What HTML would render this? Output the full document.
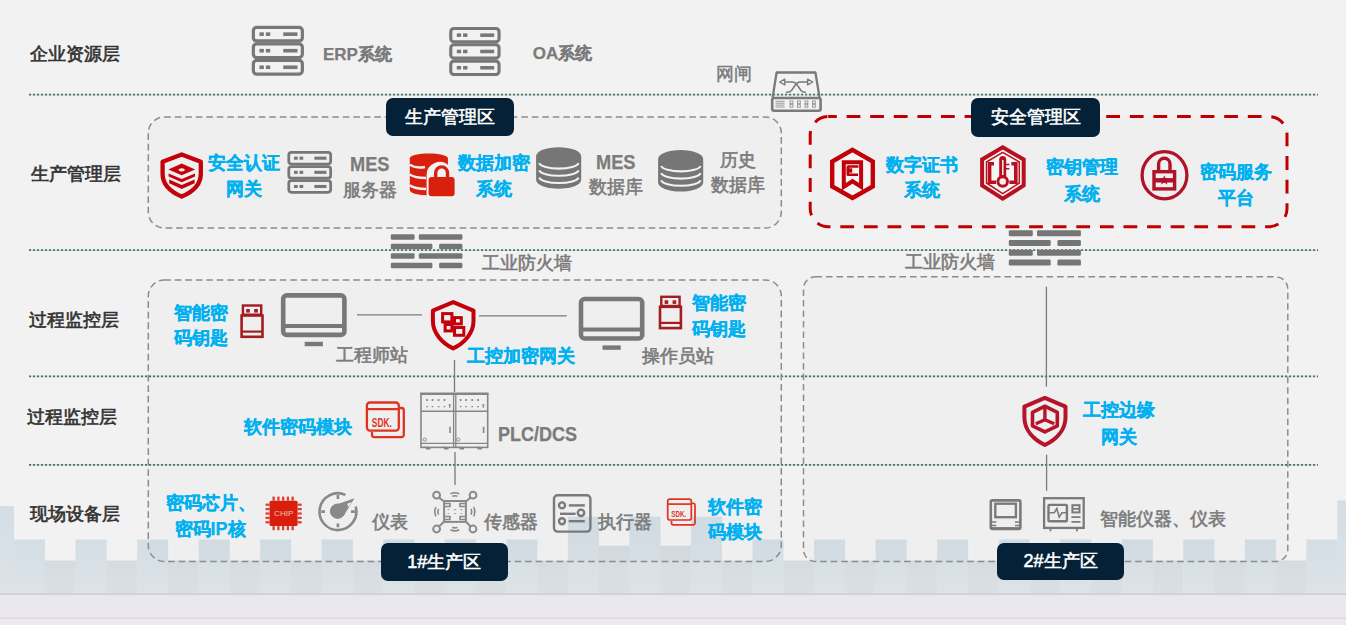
<!DOCTYPE html>
<html><head><meta charset="utf-8"><style>
html,body{margin:0;padding:0;}
body{width:1346px;height:625px;overflow:hidden;background:#f2f2f2;font-family:"Liberation Sans",sans-serif;}
#c{position:relative;width:1346px;height:625px;overflow:hidden;background:#f2f2f2;}
.t{position:absolute;white-space:nowrap;}
.lab{position:absolute;background:#042137;color:#fff;border-radius:7px;text-align:center;font-size:18px;font-weight:normal;-webkit-text-stroke:0.55px #fff;}
svg.bg{position:absolute;left:0;top:0;}
</style></head><body><div id="c">
<svg class="bg" width="1346" height="625" viewBox="0 0 1346 625"><defs><linearGradient id="gh" x1="0" y1="0" x2="0" y2="1"><stop offset="0" stop-color="#d3dee5"/><stop offset="1" stop-color="#dde3e7"/></linearGradient><linearGradient id="gl" x1="0" y1="0" x2="0" y2="1"><stop offset="0" stop-color="#d5dce1"/><stop offset="1" stop-color="#dadfe3"/></linearGradient></defs><rect x="0" y="506" width="14" height="87.5" fill="url(#gh)"/><rect x="14.00" y="539.5" width="31.07" height="54.00" fill="url(#gh)"/><rect x="44.77" y="560.5" width="31.07" height="33.00" fill="url(#gl)"/><rect x="75.54" y="539.5" width="31.07" height="54.00" fill="url(#gh)"/><rect x="106.31" y="560.5" width="31.07" height="33.00" fill="url(#gl)"/><rect x="137.08" y="539.5" width="31.07" height="54.00" fill="url(#gh)"/><rect x="167.85" y="560.5" width="31.07" height="33.00" fill="url(#gl)"/><rect x="198.62" y="539.5" width="31.07" height="54.00" fill="url(#gh)"/><rect x="229.39" y="560.5" width="31.07" height="33.00" fill="url(#gl)"/><rect x="260.16" y="539.5" width="31.07" height="54.00" fill="url(#gh)"/><rect x="290.93" y="560.5" width="31.07" height="33.00" fill="url(#gl)"/><rect x="321.70" y="539.5" width="31.07" height="54.00" fill="url(#gh)"/><rect x="352.47" y="560.5" width="31.07" height="33.00" fill="url(#gl)"/><rect x="383.24" y="539.5" width="31.07" height="54.00" fill="url(#gh)"/><rect x="414.01" y="560.5" width="31.07" height="33.00" fill="url(#gl)"/><rect x="444.78" y="539.5" width="31.07" height="54.00" fill="url(#gh)"/><rect x="475.55" y="560.5" width="31.07" height="33.00" fill="url(#gl)"/><rect x="506.32" y="539.5" width="31.07" height="54.00" fill="url(#gh)"/><rect x="537.09" y="560.5" width="31.07" height="33.00" fill="url(#gl)"/><rect x="567.86" y="516.7" width="31.07" height="76.80" fill="url(#gh)"/><rect x="598.63" y="545.7" width="31.07" height="47.80" fill="url(#gl)"/><rect x="629.40" y="516.7" width="31.07" height="76.80" fill="url(#gh)"/><rect x="660.17" y="545.7" width="31.07" height="47.80" fill="url(#gl)"/><rect x="690.94" y="516.7" width="31.07" height="76.80" fill="url(#gh)"/><rect x="721.71" y="560.5" width="31.07" height="33.00" fill="url(#gl)"/><rect x="752.48" y="539.5" width="31.07" height="54.00" fill="url(#gh)"/><rect x="783.25" y="560.5" width="31.07" height="33.00" fill="url(#gl)"/><rect x="814.02" y="539.5" width="31.07" height="54.00" fill="url(#gh)"/><rect x="844.79" y="560.5" width="31.07" height="33.00" fill="url(#gl)"/><rect x="875.56" y="539.5" width="31.07" height="54.00" fill="url(#gh)"/><rect x="906.33" y="560.5" width="31.07" height="33.00" fill="url(#gl)"/><rect x="937.10" y="539.5" width="31.07" height="54.00" fill="url(#gh)"/><rect x="967.87" y="560.5" width="31.07" height="33.00" fill="url(#gl)"/><rect x="998.64" y="539.5" width="31.07" height="54.00" fill="url(#gh)"/><rect x="1029.41" y="560.5" width="31.07" height="33.00" fill="url(#gl)"/><rect x="1060.18" y="539.5" width="31.07" height="54.00" fill="url(#gh)"/><rect x="1090.95" y="560.5" width="31.07" height="33.00" fill="url(#gl)"/><rect x="1121.72" y="539.5" width="31.07" height="54.00" fill="url(#gh)"/><rect x="1152.49" y="560.5" width="31.07" height="33.00" fill="url(#gl)"/><rect x="1183.26" y="539.5" width="31.07" height="54.00" fill="url(#gh)"/><rect x="1214.03" y="560.5" width="31.07" height="33.00" fill="url(#gl)"/><rect x="1244.80" y="539.5" width="31.07" height="54.00" fill="url(#gh)"/><rect x="1275.57" y="560.5" width="31.07" height="33.00" fill="url(#gl)"/><rect x="1306.34" y="539.5" width="31.07" height="54.00" fill="url(#gh)"/><rect x="1337.11" y="560.5" width="31.07" height="33.00" fill="url(#gl)"/><rect x="1337.2" y="500.5" width="9" height="93" fill="url(#gh)"/><rect x="0" y="593.4" width="1346" height="1.5" fill="#c9c8cc"/><rect x="0" y="594.9" width="1346" height="22.6" fill="#eae8ee"/><rect x="0" y="617.5" width="1346" height="1.4" fill="#d8d6db"/><rect x="0" y="618.9" width="1346" height="7" fill="#ebe9ef"/><line x1="29" y1="94.6" x2="1318" y2="94.6" stroke="#dde4e2" stroke-width="1.6"/><line x1="29" y1="94.6" x2="1318" y2="94.6" stroke="#44786f" stroke-width="1.6" stroke-dasharray="2.1 1.9"/><line x1="29" y1="250.1" x2="1318" y2="250.1" stroke="#dde4e2" stroke-width="1.6"/><line x1="29" y1="250.1" x2="1318" y2="250.1" stroke="#44786f" stroke-width="1.6" stroke-dasharray="2.1 1.9"/><line x1="29" y1="376.4" x2="1318" y2="376.4" stroke="#dde4e2" stroke-width="1.6"/><line x1="29" y1="376.4" x2="1318" y2="376.4" stroke="#44786f" stroke-width="1.6" stroke-dasharray="2.1 1.9"/><line x1="29" y1="464.9" x2="1318" y2="464.9" stroke="#dde4e2" stroke-width="1.6"/><line x1="29" y1="464.9" x2="1318" y2="464.9" stroke="#44786f" stroke-width="1.6" stroke-dasharray="2.1 1.9"/><rect x="148.3" y="117" width="633.0" height="111" rx="16" fill="#000" fill-opacity="0.012" stroke="#8c8c8c" stroke-width="1.5" stroke-dasharray="6.6 3.9" stroke-dashoffset="0"/><rect x="148.3" y="280" width="633.0" height="281.5" rx="16" fill="#000" fill-opacity="0.012" stroke="#8c8c8c" stroke-width="1.5" stroke-dasharray="6.6 3.9" stroke-dashoffset="0"/><rect x="803.5" y="276.8" width="484.29999999999995" height="284.7" rx="12" fill="#000" fill-opacity="0.012" stroke="#8c8c8c" stroke-width="1.5" stroke-dasharray="6.6 3.9" stroke-dashoffset="0"/><rect x="810.2" y="116.6" width="476.79999999999995" height="110.1" rx="18" fill="#000" fill-opacity="0.012" stroke="#c00000" stroke-width="3" stroke-dasharray="13.8 9.8" stroke-dashoffset="5.2"/><line x1="357" y1="314.8" x2="422" y2="314.8" stroke="#7a7a7a" stroke-width="1.3"/><line x1="479" y1="315.8" x2="566.7" y2="315.8" stroke="#7a7a7a" stroke-width="1.3"/><line x1="454.5" y1="360" x2="454.5" y2="392" stroke="#7a7a7a" stroke-width="1.3"/><line x1="455" y1="452" x2="455" y2="485" stroke="#7a7a7a" stroke-width="1.3"/><line x1="1046.4" y1="286.6" x2="1046.4" y2="386.7" stroke="#7a7a7a" stroke-width="1.3"/><line x1="1046.6" y1="454.7" x2="1046.6" y2="490.8" stroke="#7a7a7a" stroke-width="1.3"/></svg>
<div class="t" style="left:30px;top:44.5px;font-size:18px;line-height:18px;font-weight:normal;color:#333;-webkit-text-stroke:0.65px #333;">企业资源层</div><div class="t" style="left:30.5px;top:165px;font-size:18px;line-height:18px;font-weight:normal;color:#333;-webkit-text-stroke:0.65px #333;">生产管理层</div><div class="t" style="left:28.5px;top:310.5px;font-size:18px;line-height:18px;font-weight:normal;color:#333;-webkit-text-stroke:0.65px #333;">过程监控层</div><div class="t" style="left:27px;top:408.2px;font-size:18px;line-height:18px;font-weight:normal;color:#333;-webkit-text-stroke:0.65px #333;">过程监控层</div><div class="t" style="left:29.5px;top:504.8px;font-size:18px;line-height:18px;font-weight:normal;color:#333;-webkit-text-stroke:0.65px #333;">现场设备层</div><div class="lab" style="left:386px;top:98.4px;width:128px;height:38px;line-height:38px">生产管理区</div><div class="lab" style="left:971px;top:98.4px;width:129px;height:38.6px;line-height:38.6px">安全管理区</div><div class="lab" style="left:380.5px;top:542.9px;width:127.5px;height:38px;line-height:38px">1#生产区</div><div class="lab" style="left:997px;top:543px;width:127px;height:37.4px;line-height:37.4px">2#生产区</div><div class="t" style="left:323px;top:45.5px;font-size:17px;line-height:17px;font-weight:bold;color:#7b7b7b;-webkit-text-stroke:0.25px #7b7b7b;">ERP系统</div><div class="t" style="left:532.7px;top:45.4px;font-size:17px;line-height:17px;font-weight:bold;color:#7b7b7b;-webkit-text-stroke:0.25px #7b7b7b;">OA系统</div><div class="t" style="left:716px;top:65.6px;font-size:17.5px;line-height:17.5px;font-weight:normal;color:#7b7b7b;-webkit-text-stroke:0.6px #7b7b7b;-webkit-text-stroke:0.45px #7b7b7b;">网闸</div><div class="t" style="left:208px;top:154px;font-size:18px;line-height:18px;font-weight:bold;color:#00b0f0;-webkit-text-stroke:0.25px #00b0f0;">安全认证</div><div class="t" style="left:226px;top:180px;font-size:18px;line-height:18px;font-weight:bold;color:#00b0f0;-webkit-text-stroke:0.25px #00b0f0;">网关</div><div class="t" style="left:349.5px;top:153.6px;font-size:20.5px;line-height:20.5px;font-weight:bold;color:#7b7b7b;-webkit-text-stroke:0.25px #7b7b7b;transform:scaleX(0.89);transform-origin:0 0;">MES</div><div class="t" style="left:342.7px;top:181px;font-size:18px;line-height:18px;font-weight:normal;color:#7b7b7b;-webkit-text-stroke:0.6px #7b7b7b;">服务器</div><div class="t" style="left:457.6px;top:153.7px;font-size:18px;line-height:18px;font-weight:bold;color:#00b0f0;-webkit-text-stroke:0.25px #00b0f0;">数据加密</div><div class="t" style="left:476px;top:180px;font-size:18px;line-height:18px;font-weight:bold;color:#00b0f0;-webkit-text-stroke:0.25px #00b0f0;">系统</div><div class="t" style="left:596px;top:151.5px;font-size:20.5px;line-height:20.5px;font-weight:bold;color:#7b7b7b;-webkit-text-stroke:0.25px #7b7b7b;transform:scaleX(0.89);transform-origin:0 0;">MES</div><div class="t" style="left:589px;top:178px;font-size:18px;line-height:18px;font-weight:normal;color:#7b7b7b;-webkit-text-stroke:0.6px #7b7b7b;">数据库</div><div class="t" style="left:720px;top:150.5px;font-size:18px;line-height:18px;font-weight:normal;color:#7b7b7b;-webkit-text-stroke:0.6px #7b7b7b;">历史</div><div class="t" style="left:711px;top:176px;font-size:18px;line-height:18px;font-weight:normal;color:#7b7b7b;-webkit-text-stroke:0.6px #7b7b7b;">数据库</div><div class="t" style="left:885.8px;top:155.5px;font-size:18px;line-height:18px;font-weight:bold;color:#00b0f0;-webkit-text-stroke:0.25px #00b0f0;">数字证书</div><div class="t" style="left:904px;top:181px;font-size:18px;line-height:18px;font-weight:bold;color:#00b0f0;-webkit-text-stroke:0.25px #00b0f0;">系统</div><div class="t" style="left:1046px;top:158px;font-size:18px;line-height:18px;font-weight:bold;color:#00b0f0;-webkit-text-stroke:0.25px #00b0f0;">密钥管理</div><div class="t" style="left:1064.4px;top:184.7px;font-size:18px;line-height:18px;font-weight:bold;color:#00b0f0;-webkit-text-stroke:0.25px #00b0f0;">系统</div><div class="t" style="left:1200px;top:163px;font-size:18px;line-height:18px;font-weight:bold;color:#00b0f0;-webkit-text-stroke:0.25px #00b0f0;">密码服务</div><div class="t" style="left:1218px;top:189px;font-size:18px;line-height:18px;font-weight:bold;color:#00b0f0;-webkit-text-stroke:0.25px #00b0f0;">平台</div><div class="t" style="left:482px;top:254.3px;font-size:18px;line-height:18px;font-weight:normal;color:#7b7b7b;-webkit-text-stroke:0.6px #7b7b7b;">工业防火墙</div><div class="t" style="left:905.3px;top:252.6px;font-size:18px;line-height:18px;font-weight:normal;color:#7b7b7b;-webkit-text-stroke:0.6px #7b7b7b;">工业防火墙</div><div class="t" style="left:174px;top:303.6px;font-size:18px;line-height:18px;font-weight:bold;color:#00b0f0;-webkit-text-stroke:0.25px #00b0f0;">智能密</div><div class="t" style="left:174px;top:329px;font-size:18px;line-height:18px;font-weight:bold;color:#00b0f0;-webkit-text-stroke:0.25px #00b0f0;">码钥匙</div><div class="t" style="left:336px;top:345.8px;font-size:18px;line-height:18px;font-weight:normal;color:#7b7b7b;-webkit-text-stroke:0.6px #7b7b7b;">工程师站</div><div class="t" style="left:466.5px;top:347.2px;font-size:18px;line-height:18px;font-weight:bold;color:#00b0f0;-webkit-text-stroke:0.25px #00b0f0;">工控加密网关</div><div class="t" style="left:641.5px;top:347px;font-size:18px;line-height:18px;font-weight:normal;color:#7b7b7b;-webkit-text-stroke:0.6px #7b7b7b;">操作员站</div><div class="t" style="left:692px;top:294.3px;font-size:18px;line-height:18px;font-weight:bold;color:#00b0f0;-webkit-text-stroke:0.25px #00b0f0;">智能密</div><div class="t" style="left:692px;top:320.3px;font-size:18px;line-height:18px;font-weight:bold;color:#00b0f0;-webkit-text-stroke:0.25px #00b0f0;">码钥匙</div><div class="t" style="left:244.3px;top:418px;font-size:18px;line-height:18px;font-weight:bold;color:#00b0f0;-webkit-text-stroke:0.25px #00b0f0;">软件密码模块</div><div class="t" style="left:497.5px;top:425.3px;font-size:19.6px;line-height:19.6px;font-weight:bold;color:#7b7b7b;-webkit-text-stroke:0.25px #7b7b7b;transform:scaleX(0.92);transform-origin:0 0;">PLC/DCS</div><div class="t" style="left:166px;top:494.3px;font-size:18px;line-height:18px;font-weight:bold;color:#00b0f0;-webkit-text-stroke:0.25px #00b0f0;">密码芯片、</div><div class="t" style="left:174.5px;top:520px;font-size:18px;line-height:18px;font-weight:bold;color:#00b0f0;-webkit-text-stroke:0.25px #00b0f0;">密码IP核</div><div class="t" style="left:371.9px;top:512.7px;font-size:18px;line-height:18px;font-weight:normal;color:#7b7b7b;-webkit-text-stroke:0.6px #7b7b7b;">仪表</div><div class="t" style="left:484.4px;top:513px;font-size:18px;line-height:18px;font-weight:normal;color:#7b7b7b;-webkit-text-stroke:0.6px #7b7b7b;">传感器</div><div class="t" style="left:598.4px;top:513px;font-size:18px;line-height:18px;font-weight:normal;color:#7b7b7b;-webkit-text-stroke:0.6px #7b7b7b;">执行器</div><div class="t" style="left:708px;top:498px;font-size:18px;line-height:18px;font-weight:bold;color:#00b0f0;-webkit-text-stroke:0.25px #00b0f0;">软件密</div><div class="t" style="left:708px;top:522.7px;font-size:18px;line-height:18px;font-weight:bold;color:#00b0f0;-webkit-text-stroke:0.25px #00b0f0;">码模块</div><div class="t" style="left:1082.9px;top:401.4px;font-size:18px;line-height:18px;font-weight:bold;color:#00b0f0;-webkit-text-stroke:0.25px #00b0f0;">工控边缘</div><div class="t" style="left:1101px;top:428.4px;font-size:18px;line-height:18px;font-weight:bold;color:#00b0f0;-webkit-text-stroke:0.25px #00b0f0;">网关</div><div class="t" style="left:1100.4px;top:510px;font-size:18px;line-height:18px;font-weight:normal;color:#7b7b7b;-webkit-text-stroke:0.6px #7b7b7b;">智能仪器、仪表</div>
<svg class="bg" width="1346" height="625" viewBox="0 0 1346 625"><g transform="translate(251.75,25.75) scale(1.0)" fill="none" stroke="#777777" stroke-width="3.2"><rect x="1.6" y="1.60" width="49" height="13.6" rx="3.2"/><rect x="7.7" y="6.60" width="4.4" height="3.6" fill="#777777" stroke="none"/><rect x="14.1" y="6.60" width="4.4" height="3.6" fill="#777777" stroke="none"/><rect x="31.5" y="6.60" width="14.2" height="3.6" fill="#777777" stroke="none"/><rect x="1.6" y="18.15" width="49" height="13.6" rx="3.2"/><rect x="7.7" y="23.15" width="4.4" height="3.6" fill="#777777" stroke="none"/><rect x="14.1" y="23.15" width="4.4" height="3.6" fill="#777777" stroke="none"/><rect x="31.5" y="23.15" width="14.2" height="3.6" fill="#777777" stroke="none"/><rect x="1.6" y="34.70" width="49" height="13.6" rx="3.2"/><rect x="7.7" y="39.70" width="4.4" height="3.6" fill="#777777" stroke="none"/><rect x="14.1" y="39.70" width="4.4" height="3.6" fill="#777777" stroke="none"/><rect x="31.5" y="39.70" width="14.2" height="3.6" fill="#777777" stroke="none"/></g><g transform="translate(449.2,26.9) scale(0.985)" fill="none" stroke="#777777" stroke-width="3.2"><rect x="1.6" y="1.60" width="49" height="13.6" rx="3.2"/><rect x="7.7" y="6.60" width="4.4" height="3.6" fill="#777777" stroke="none"/><rect x="14.1" y="6.60" width="4.4" height="3.6" fill="#777777" stroke="none"/><rect x="31.5" y="6.60" width="14.2" height="3.6" fill="#777777" stroke="none"/><rect x="1.6" y="18.15" width="49" height="13.6" rx="3.2"/><rect x="7.7" y="23.15" width="4.4" height="3.6" fill="#777777" stroke="none"/><rect x="14.1" y="23.15" width="4.4" height="3.6" fill="#777777" stroke="none"/><rect x="31.5" y="23.15" width="14.2" height="3.6" fill="#777777" stroke="none"/><rect x="1.6" y="34.70" width="49" height="13.6" rx="3.2"/><rect x="7.7" y="39.70" width="4.4" height="3.6" fill="#777777" stroke="none"/><rect x="14.1" y="39.70" width="4.4" height="3.6" fill="#777777" stroke="none"/><rect x="31.5" y="39.70" width="14.2" height="3.6" fill="#777777" stroke="none"/></g><g transform="translate(287.4,151.0) scale(0.855)" fill="none" stroke="#777777" stroke-width="3.2"><rect x="1.6" y="1.60" width="49" height="13.6" rx="3.2"/><rect x="7.7" y="6.60" width="4.4" height="3.6" fill="#777777" stroke="none"/><rect x="14.1" y="6.60" width="4.4" height="3.6" fill="#777777" stroke="none"/><rect x="31.5" y="6.60" width="14.2" height="3.6" fill="#777777" stroke="none"/><rect x="1.6" y="18.15" width="49" height="13.6" rx="3.2"/><rect x="7.7" y="23.15" width="4.4" height="3.6" fill="#777777" stroke="none"/><rect x="14.1" y="23.15" width="4.4" height="3.6" fill="#777777" stroke="none"/><rect x="31.5" y="23.15" width="14.2" height="3.6" fill="#777777" stroke="none"/><rect x="1.6" y="34.70" width="49" height="13.6" rx="3.2"/><rect x="7.7" y="39.70" width="4.4" height="3.6" fill="#777777" stroke="none"/><rect x="14.1" y="39.70" width="4.4" height="3.6" fill="#777777" stroke="none"/><rect x="31.5" y="39.70" width="14.2" height="3.6" fill="#777777" stroke="none"/></g><g transform="translate(766,66)" fill="none" stroke="#7a7a7a"><path d="M6.6,31.6 L10.6,6.5 H49.4 L53.6,31.6" stroke-width="2.3" stroke-linejoin="round"/><rect x="6.2" y="32" width="48.4" height="12.8" rx="2" stroke-width="2.6"/><path d="M19.5,16 H26.5 C29,16 30,17 31.5,19.5 L35,24.5 C36.5,26.5 37,26.3 40,26.3" stroke-width="1.5"/><path d="M41,16 H34 C31.5,16 30.5,17 29,19.5 L25.5,24.5 C24,26.5 23.5,26.3 20,26.3" stroke-width="1.5"/><path d="M18.8,13.2 L13.6,16 L18.8,18.8 Z" stroke-width="1.4" stroke-linejoin="round"/><path d="M41.6,13.2 L46.8,16 L41.6,18.8 Z" stroke-width="1.4" stroke-linejoin="round"/><g stroke-width="1" stroke="#9a9a9a"><path d="M9.5,35.3 H18.6 M9.5,37.2 H18.6 M9.5,39.1 H18.6 M9.5,41 H18.6"/><rect x="24" y="35" width="2.8" height="2.6"/><rect x="24" y="38.6" width="2.8" height="2.6"/><rect x="31.5" y="35" width="2.8" height="2.6"/><rect x="31.5" y="38.6" width="2.8" height="2.6"/><rect x="39" y="35" width="2.8" height="2.6"/><rect x="39" y="38.6" width="2.8" height="2.6"/><rect x="46.5" y="35" width="2.8" height="2.6"/><rect x="46.5" y="38.6" width="2.8" height="2.6"/></g></g><g transform="translate(154,146)"><path d="M27.7,8.5 L46.8,15.8 V28 C46.8,38.5 38.5,46 27.7,50.6 C16.9,46 8.6,38.5 8.6,28 V15.8 Z" fill="none" stroke="#c4000b" stroke-width="4.3" stroke-linejoin="round"/><path d="M27.7,17.6 L41.2,23.5 L27.7,29.3 L14.4,23.5 Z" fill="#c4000b"/><ellipse cx="27.7" cy="23.8" rx="3" ry="1.6" fill="#f2f2f2"/><path d="M14.6,27.4 L27.7,33 L41,27.4 V30.6 L27.7,36.3 L14.6,30.6 Z" fill="#c4000b"/><path d="M15.2,33.4 L27.7,39 L40.6,33.4 V37.2 L27.7,43 L15.2,37.2 Z" fill="#c4000b"/></g><g transform="translate(404,146)"><path d="M5.8,12.2 C5.8,5.8 43.9,5.8 43.9,12.2 V44 C43.9,51 5.8,51 5.8,44 Z" fill="#d9200f"/><path d="M5.8,18.8 C10,21.5 16,22 21,21" fill="none" stroke="#f2f2f2" stroke-width="2.4"/><path d="M5.8,28.6 C10,31.5 16,32 22,32" fill="none" stroke="#f2f2f2" stroke-width="2.4"/><path d="M5.8,39.3 C10,42.5 16,43 22,43" fill="none" stroke="#f2f2f2" stroke-width="2.4"/><path d="M22.6,29 A13,13 0 0 1 45,20 V52 H22.6 Z" fill="#f2f2f2"/><rect x="24.6" y="30.9" width="26" height="19.3" rx="3" fill="#d9200f" stroke="#f2f2f2" stroke-width="0"/><path d="M31.7,31.5 V26.8 A5.9,5.9 0 0 1 43.5,26.8 V31.5" fill="none" stroke="#d9200f" stroke-width="3.4"/></g><g transform="translate(530,140)"><path d="M6.1,16.2 A22.55,9 0 0 1 51.2,16.2 V39.8 A22.55,9 0 0 1 6.1,39.8 Z" fill="#767676"/><path d="M9.2,23.2 A19.8,6 0 0 0 48.6,23.2" fill="none" stroke="#f2f2f2" stroke-width="2.1"/><path d="M9.2,30.4 A19.8,6 0 0 0 48.6,30.4" fill="none" stroke="#f2f2f2" stroke-width="2.1"/><path d="M9.2,37.6 A19.8,6 0 0 0 48.6,37.6" fill="none" stroke="#f2f2f2" stroke-width="2.1"/></g><g transform="translate(652,142.8)"><path d="M6.1,16.2 A22.55,9 0 0 1 51.2,16.2 V39.8 A22.55,9 0 0 1 6.1,39.8 Z" fill="#767676"/><path d="M9.2,23.2 A19.8,6 0 0 0 48.6,23.2" fill="none" stroke="#f2f2f2" stroke-width="2.1"/><path d="M9.2,30.4 A19.8,6 0 0 0 48.6,30.4" fill="none" stroke="#f2f2f2" stroke-width="2.1"/><path d="M9.2,37.6 A19.8,6 0 0 0 48.6,37.6" fill="none" stroke="#f2f2f2" stroke-width="2.1"/></g><g transform="translate(824,142)" fill="none" stroke="#c20008" stroke-linejoin="miter"><path d="M28.5,7.8 L48.8,19.6 V44.4 L28.5,56 L8.2,44.4 V19.6 Z" stroke-width="4.4" fill="#f5f5f5"/><path d="M19.8,20.3 H37.1 V44.8 L28.5,39.2 L19.8,44.8 Z" stroke-width="4"/><path d="M23.2,24.5 H34.5 M23.8,24.5 V33 M23,32.7 H34" stroke-width="2.6"/><rect x="23.8" y="26.3" width="4.4" height="4.4" fill="#c20008" stroke="none"/></g><g transform="translate(974,140)" fill="none" stroke="#b8101f"><path d="M28.7,7.3 L49.7,19.5 V45.5 L28.7,58.7 L8.1,45.5 V19.5 Z" stroke-width="4" fill="#f5f5f5"/><path d="M28.7,12.3 L45.3,22 V43 L28.7,53.6 L12.5,43 V22 Z" stroke-width="1.5"/><path d="M20,23.8 H15.6 V42.3 H22 M37.4,23.8 H41.8 V42.3 H35.4" stroke-width="3.6"/><path d="M28.7,19.5 V36" stroke-width="7" stroke-linecap="round"/><circle cx="28.7" cy="41.5" r="6.2" fill="#b8101f" stroke="none"/><circle cx="28.7" cy="41.5" r="3.3" fill="#f2f2f2" stroke="none"/><path d="M28.8,20 V35" stroke="#f2f2f2" stroke-width="1.5"/><path d="M32,24.5 H35.4 M32,28.8 H35.4" stroke-width="1.6"/></g><g transform="translate(1136,145)" fill="none" stroke="#b0122a"><ellipse cx="28.5" cy="30.2" rx="22.4" ry="23.6" stroke-width="3.3"/><rect x="18" y="26.7" width="20.6" height="17.2" stroke-width="3.4"/><path d="M22.6,26.5 V19 A5.7,5.7 0 0 1 34,19 V26.5" stroke-width="3.4"/><rect x="18" y="33.1" width="20.6" height="4.4" fill="#b0122a" stroke="none"/><path d="M28.3,30.4 L29.7,33.6 L33.2,33.9 L30.5,36.1 L31.4,39.5 L28.3,37.6 L25.2,39.5 L26.1,36.1 L23.4,33.9 L26.9,33.6 Z" fill="#b0122a" stroke="none"/></g><g transform="translate(390.8,234.2)" fill="#757575"><rect x="0" y="0.00" width="23.80" height="5.6" rx="1.3"/><rect x="28.00" y="0.00" width="43.60" height="5.6" rx="1.3"/><rect x="0" y="9.50" width="41.60" height="5.6" rx="1.3"/><rect x="48.30" y="9.50" width="23.30" height="5.6" rx="1.3"/><rect x="0" y="19.00" width="23.80" height="5.6" rx="1.3"/><rect x="28.00" y="19.00" width="43.60" height="5.6" rx="1.3"/><rect x="0" y="28.50" width="41.60" height="5.6" rx="1.3"/><rect x="48.30" y="28.50" width="23.30" height="5.6" rx="1.3"/></g><g transform="translate(1008.8,230.2)" fill="#757575"><rect x="0" y="0.00" width="23.97" height="6.0" rx="1.3"/><rect x="28.20" y="0.00" width="43.90" height="6.0" rx="1.3"/><rect x="0" y="9.80" width="41.89" height="6.0" rx="1.3"/><rect x="48.64" y="9.80" width="23.46" height="6.0" rx="1.3"/><rect x="0" y="19.60" width="23.97" height="6.0" rx="1.3"/><rect x="28.20" y="19.60" width="43.90" height="6.0" rx="1.3"/><rect x="0" y="29.40" width="41.89" height="6.0" rx="1.3"/><rect x="48.64" y="29.40" width="23.46" height="6.0" rx="1.3"/></g><g transform="translate(234,298)" fill="none" stroke="#a31c22"><rect x="8.9" y="7.5" width="18.3" height="9.2" stroke-width="2.4"/><rect x="12.2" y="11" width="3.6" height="3.6" fill="#a31c22" stroke="none"/><rect x="20.2" y="11" width="3.6" height="3.6" fill="#a31c22" stroke="none"/><rect x="7.6" y="17.5" width="20.9" height="21.3" stroke-width="2.6"/><path d="M7.6,33.6 H28.5" stroke-width="2.2"/></g><g transform="translate(652.4,289.3)" fill="none" stroke="#a31c22"><rect x="8.9" y="7.5" width="18.3" height="9.2" stroke-width="2.4"/><rect x="12.2" y="11" width="3.6" height="3.6" fill="#a31c22" stroke="none"/><rect x="20.2" y="11" width="3.6" height="3.6" fill="#a31c22" stroke="none"/><rect x="7.6" y="17.5" width="20.9" height="21.3" stroke-width="2.6"/><path d="M7.6,33.6 H28.5" stroke-width="2.2"/></g><g transform="translate(276,288) scale(1.0)" fill="none" stroke="#787878"><rect x="7.2" y="7.4" width="61.2" height="39.5" rx="3.6" stroke-width="4.6"/><path d="M7.2,38 H68.4" stroke-width="4"/><rect x="28.7" y="53.8" width="18.2" height="4.4" fill="#787878" stroke="none"/></g><g transform="translate(573.8,291.6) scale(1.0)" fill="none" stroke="#787878"><rect x="7.2" y="7.4" width="61.2" height="39.5" rx="3.6" stroke-width="4.6"/><path d="M7.2,38 H68.4" stroke-width="4"/><rect x="28.7" y="53.8" width="18.2" height="4.4" fill="#787878" stroke="none"/></g><g transform="translate(424,294)" fill="none" stroke="#c4000b"><path d="M29.2,8.1 L49.5,16.6 V27 C49.5,39 40.5,49 29.2,54.4 C17.9,49 8.9,39 8.9,27 V16.6 Z" stroke-width="4" stroke-linejoin="round"/><rect x="18.6" y="19.6" width="9.3" height="8.3" stroke-width="3"/><rect x="30.5" y="23.6" width="6.8" height="6.3" stroke-width="3"/><rect x="21.1" y="30.5" width="6.8" height="6.4" stroke-width="3"/><rect x="30.5" y="33.5" width="9.3" height="7.8" stroke-width="3"/></g><g transform="translate(360,396) scale(1.0)" fill="none" stroke="#e0321f" stroke-width="2.3"><path d="M39.9,12 H41.7 A2.4,2.4 0 0 1 43.8,14.4 V38.8 A2.4,2.4 0 0 1 41.4,41.2 H14.4 A2.4,2.4 0 0 1 12,38.8 V36"/><rect x="6.9" y="6.5" width="31.9" height="28.1" rx="3"/><path d="M6.9,13.1 H38.8"/><text x="11.8" y="30.6" fill="#e0321f" stroke="none" font-family="Liberation Sans" font-weight="bold" font-size="13.4" textLength="20" lengthAdjust="spacingAndGlyphs">SDK.</text></g><g transform="translate(662.6,494.4) scale(0.74)" fill="none" stroke="#e0321f" stroke-width="2.3"><path d="M39.9,12 H41.7 A2.4,2.4 0 0 1 43.8,14.4 V38.8 A2.4,2.4 0 0 1 41.4,41.2 H14.4 A2.4,2.4 0 0 1 12,38.8 V36"/><rect x="6.9" y="6.5" width="31.9" height="28.1" rx="3"/><path d="M6.9,13.1 H38.8"/><text x="11.8" y="30.6" fill="#e0321f" stroke="none" font-family="Liberation Sans" font-weight="bold" font-size="13.4" textLength="20" lengthAdjust="spacingAndGlyphs">SDK.</text></g><g transform="translate(414,386)" fill="none" stroke="#858585"><rect x="7" y="7.9" width="66.7" height="53.5" stroke-width="1.6"/><path d="M6.2,7.8 H74.5" stroke-width="2.4"/><path d="M39.6,7.5 V61.4 M41.8,7.5 V61.4" stroke-width="1.3"/><path d="M7,25.2 H73.7" stroke-width="1.4"/><path d="M7,57.3 H73.7" stroke-width="1.3"/><path d="M12,62.8 h4.5 M30,62.8 h4.5 M45.5,62.8 h4.5 M63.5,62.8 h4.5" stroke-width="1.6"/><path d="M13,14 h0.01 M18.5,14 h0.01 M24.6,14 h0.01 M30.5,14 h0.01" stroke-width="2.2" stroke-linecap="round"/><path d="M12.2,20.7 h1.6 M17.7,20.7 h1.6 M23.8,20.7 h1.6 M29.7,20.7 h1.6" stroke-width="1.2"/><path d="M34.6,18.8 h2.2 M35.7,18.8 v3" stroke-width="1.2"/><path d="M36,40.8 V47" stroke-width="1.6"/><circle cx="10.7" cy="53.6" r="1.6" stroke-width="0.9"/><path d="M10,61.2 h4.4 M28,61.2 h4.4" stroke-width="1.1"/><path d="M46.6,14 h0.01 M52.1,14 h0.01 M58.2,14 h0.01 M64.1,14 h0.01" stroke-width="2.2" stroke-linecap="round"/><path d="M45.8,20.7 h1.6 M51.3,20.7 h1.6 M57.400000000000006,20.7 h1.6 M63.3,20.7 h1.6" stroke-width="1.2"/><path d="M68.2,18.8 h2.2 M69.30000000000001,18.8 v3" stroke-width="1.2"/><path d="M69.6,40.8 V47" stroke-width="1.6"/><circle cx="44.3" cy="53.6" r="1.6" stroke-width="0.9"/><path d="M43.6,61.2 h4.4 M61.6,61.2 h4.4" stroke-width="1.1"/></g><g transform="translate(260,490)"><rect x="9.6" y="10.7" width="28" height="25.4" rx="1.6" fill="#d91e0c"/><rect x="12.50" y="6.6" width="2.3" height="4.1" fill="#d91e0c" opacity="0.85"/><rect x="12.50" y="36.1" width="2.3" height="4.1" fill="#d91e0c" opacity="0.85"/><rect x="5.5" y="13.60" width="4.1" height="2.2" fill="#d91e0c" opacity="0.85"/><rect x="37.6" y="13.60" width="4.1" height="2.2" fill="#d91e0c" opacity="0.85"/><rect x="17.25" y="6.6" width="2.3" height="4.1" fill="#d91e0c" opacity="0.85"/><rect x="17.25" y="36.1" width="2.3" height="4.1" fill="#d91e0c" opacity="0.85"/><rect x="5.5" y="18.00" width="4.1" height="2.2" fill="#d91e0c" opacity="0.85"/><rect x="37.6" y="18.00" width="4.1" height="2.2" fill="#d91e0c" opacity="0.85"/><rect x="22.00" y="6.6" width="2.3" height="4.1" fill="#d91e0c" opacity="0.85"/><rect x="22.00" y="36.1" width="2.3" height="4.1" fill="#d91e0c" opacity="0.85"/><rect x="5.5" y="22.40" width="4.1" height="2.2" fill="#d91e0c" opacity="0.85"/><rect x="37.6" y="22.40" width="4.1" height="2.2" fill="#d91e0c" opacity="0.85"/><rect x="26.75" y="6.6" width="2.3" height="4.1" fill="#d91e0c" opacity="0.85"/><rect x="26.75" y="36.1" width="2.3" height="4.1" fill="#d91e0c" opacity="0.85"/><rect x="5.5" y="26.80" width="4.1" height="2.2" fill="#d91e0c" opacity="0.85"/><rect x="37.6" y="26.80" width="4.1" height="2.2" fill="#d91e0c" opacity="0.85"/><rect x="31.50" y="6.6" width="2.3" height="4.1" fill="#d91e0c" opacity="0.85"/><rect x="31.50" y="36.1" width="2.3" height="4.1" fill="#d91e0c" opacity="0.85"/><rect x="5.5" y="31.20" width="4.1" height="2.2" fill="#d91e0c" opacity="0.85"/><rect x="37.6" y="31.20" width="4.1" height="2.2" fill="#d91e0c" opacity="0.85"/><text x="14" y="26.4" fill="#f4c0b8" font-family="Liberation Sans" font-size="7" textLength="19.5" lengthAdjust="spacingAndGlyphs">CHIP</text></g><g transform="translate(314,488)" fill="none" stroke="#898989"><path d="M31.5,6.9 A18.4,18.4 0 1 0 41.6,18.5" stroke-width="2.6"/><path d="M23.9,7 V11 M23.9,35.5 V39.3 M7.3,23.6 H11 M37,23.6 H40.8" stroke-width="2.6"/><circle cx="23.6" cy="23.2" r="7.2" fill="#898989"/><path d="M40.5,10.3 L29.5,28 L19.5,17.5 Z" fill="#898989" stroke="none"/><path d="M33.2,15.8 L37.7,14 L34.6,19.3 Z" fill="#f2f2f2" stroke="none"/></g><g transform="translate(428,484)" fill="none" stroke="#898989" stroke-width="2"><rect x="16.1" y="17" width="21.8" height="20.9"/><circle cx="8.6" cy="11.2" r="3.4"/><circle cx="45" cy="11.2" r="3.4"/><circle cx="8.6" cy="45" r="3.4"/><circle cx="45" cy="45" r="3.4"/><path d="M11,13.6 L16.1,17.5 M42.6,13.6 L37.9,17.5 M11,42.6 L16.1,37.5 M42.6,42.6 L37.9,37.5"/><path d="M17,19.5 H22 V22.5 H17 M37,19.5 H32 V22.5 H37 M17,35.5 H22 V32.5 H17 M37,35.5 H32 V32.5 H37" stroke-width="1.6"/><path d="M22.5,9.8 Q26.8,7.6 31.2,9.8 M24.3,12.4 Q26.8,11 29.4,12.4" stroke-width="1.6"/><path d="M22.5,45.8 Q26.8,48 31.2,45.8 M24.3,43.2 Q26.8,44.6 29.4,43.2" stroke-width="1.6"/><path d="M8,23 Q5.6,27.7 8,32.4 M10.6,24.8 Q9.2,27.7 10.6,30.6" stroke-width="1.6"/><path d="M45.6,23 Q48,27.7 45.6,32.4 M43,24.8 Q44.4,27.7 43,30.6" stroke-width="1.6"/><path d="M19.5,25.7 h2 M25.8,25.7 h2.5 M32.4,25.7 h2 M19.5,29.5 h2 M25.8,29.5 h2.5 M32.4,29.5 h2" stroke-width="1.2" stroke="#aaaaaa"/></g><g transform="translate(548,488)" fill="none" stroke="#7a7a7a" stroke-width="2.4"><rect x="6" y="7.2" width="36.4" height="36.4" rx="3.6"/><circle cx="14" cy="17.4" r="3"/><path d="M20.8,17.4 H36.8"/><path d="M12,25.8 H27.6"/><circle cx="33" cy="24.8" r="3.2"/><circle cx="14" cy="33.2" r="3"/><path d="M20.8,33.2 H36.8"/></g><g transform="translate(1016,390)" fill="none" stroke="#b5142a" stroke-linejoin="round"><path d="M28.9,7.9 L49.5,16.6 V27.5 C49.5,40 40,49.5 28.9,55 C17.8,49.5 8.4,40 8.4,27.5 V16.6 Z" stroke-width="4"/><path d="M28.9,16.2 L41.3,22.3 V35.8 L28.9,41.9 L16.5,35.8 V22.3 Z" stroke-width="3.6"/><path d="M28.9,16.5 V29.7 L19.8,33.7 M28.9,29.7 L38.2,33.7" stroke-width="3.4"/></g><g transform="translate(984,490)" fill="none" stroke="#7a7a7a"><rect x="6.8" y="10.4" width="29.6" height="28.5" rx="1.6" stroke-width="2.6"/><rect x="11.3" y="13.7" width="20.6" height="13.5" stroke-width="2.4"/><path d="M6.8,31.9 H12.3 M6.8,35.4 H12.3 M31,31.9 H36.4 M31,35.4 H36.4" stroke-width="1.5"/><path d="M6.8,37.8 H36.4" stroke-width="1.3"/><rect x="60.1" y="8.2" width="39.6" height="29.7" stroke-width="2.3"/><path d="M66.5,39 V41.3 M92.9,39 V41.3" stroke-width="1.8"/><rect x="64.5" y="14.9" width="18.4" height="16.3" rx="0.8" stroke-width="2.4"/><path d="M65.2,22.8 H70.2 L72.8,18.5 L75.2,27.1 L77.9,22.8 H82.6" stroke-width="1.6"/><rect x="88.4" y="15.2" width="7.1" height="7.2" stroke-width="2"/><path d="M88.4,18.8 H95.5 M87.4,27.2 H96.5 M87.4,31.9 H96.5" stroke-width="1.8"/></g></svg>
</div></body></html>
